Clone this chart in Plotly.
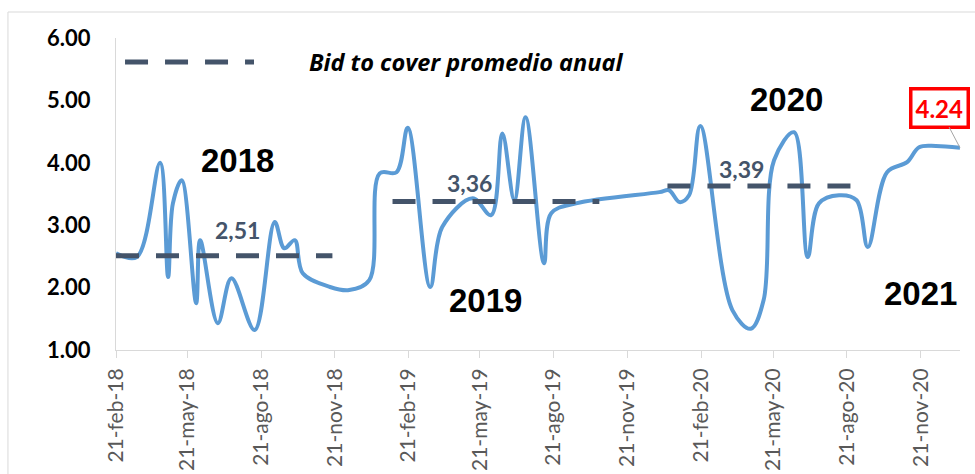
import plotly.graph_objects as go

# ---- Data ----
dates = [
    "2018-02-21", "2018-03-19", "2018-04-17", "2018-04-27", "2018-05-03", "2018-05-14",
    "2018-06-01", "2018-06-06", "2018-06-28", "2018-07-15", "2018-08-13", "2018-09-07",
    "2018-09-19", "2018-10-02", "2018-10-12", "2018-11-15", "2018-12-09", "2019-01-03",
    "2019-01-16", "2019-02-06", "2019-02-20", "2019-03-20", "2019-04-04", "2019-05-12",
    "2019-06-04", "2019-06-18", "2019-07-03", "2019-07-17", "2019-08-09", "2019-08-18",
    "2019-09-18", "2019-12-31", "2020-01-12", "2020-01-25", "2020-02-06", "2020-02-20",
    "2020-03-31", "2020-04-23", "2020-05-09", "2020-05-22", "2020-06-16", "2020-07-03",
    "2020-07-17", "2020-08-11", "2020-09-02", "2020-09-16", "2020-10-10", "2020-11-04",
    "2020-11-19", "2020-12-10", "2021-01-09",
]
bid_to_cover = [
    2.55, 2.49, 4.00, 2.17, 3.35, 3.72,
    1.75, 2.76, 1.43, 2.15, 1.32, 3.05,
    2.63, 2.76, 2.23, 2.01, 1.96, 2.12,
    3.83, 3.85, 4.56, 2.01, 2.97, 3.43,
    3.16, 4.47, 3.40, 4.73, 2.39, 3.19,
    3.35, 3.53, 3.56, 3.37, 3.48, 4.59,
    1.64, 1.34, 1.80, 4.04, 4.49, 2.49,
    3.35, 3.48, 3.40, 2.65, 3.85, 4.01,
    4.25, 4.27, 4.24,
]

# Annual averages (dashed segments)
avg_starts = ["2018-02-21", "2019-02-01", "2020-01-10"]
avg_ends = ["2018-11-18", "2019-10-17", "2020-08-27"]
avg_levels = [2.51, 3.38, 3.63]
avg_texts = ["2,51", "3,36", "3,39"]
avg_label_x = ["2018-07-23", "2019-05-08", "2020-04-12"]
avg_label_y = [2.92, 3.68, 3.90]

# Year labels
year_texts = ["2018", "2019", "2020", "2021"]
year_x = ["2018-07-22", "2019-05-28", "2020-06-06", "2020-11-21"]
year_y = [4.04, 1.80, 5.01, 1.90]

# Axis ticks
tick_dates = [
    "2018-02-21", "2018-05-21", "2018-08-21", "2018-11-21",
    "2019-02-21", "2019-05-21", "2019-08-21", "2019-11-21",
    "2020-02-21", "2020-05-21", "2020-08-21", "2020-11-21",
]
tick_labels = [
    "21-feb-18", "21-may-18", "21-ago-18", "21-nov-18",
    "21-feb-19", "21-may-19", "21-ago-19", "21-nov-19",
    "21-feb-20", "21-may-20", "21-ago-20", "21-nov-20",
]
y_ticks = [1, 2, 3, 4, 5, 6]
y_tick_labels = ["1.00", "2.00", "3.00", "4.00", "5.00", "6.00"]

BLUE = "#5B9BD5"
SLATE = "#44546A"
GRID = "#D9D9D9"

fig = go.Figure()

fig.add_trace(go.Scatter(
    x=dates, y=bid_to_cover, mode="lines",
    line=dict(color=BLUE, width=4, shape="spline", smoothing=1.0),
    hoverinfo="x+y", showlegend=False,
))

for s, e, v in zip(avg_starts, avg_ends, avg_levels):
    fig.add_trace(go.Scatter(
        x=[s, e], y=[v, v], mode="lines",
        line=dict(color=SLATE, width=5, dash="23px,17px"),
        showlegend=False, hoverinfo="skip",
    ))

annotations = []
for t, x, y in zip(avg_texts, avg_label_x, avg_label_y):
    annotations.append(dict(
        x=x, y=y, text=t, showarrow=False,
        font=dict(family="Lato", size=23, color=SLATE, weight="bold"),
    ))
for t, x, y in zip(year_texts, year_x, year_y):
    annotations.append(dict(
        x=x, y=y, text=t, showarrow=False,
        font=dict(family="Liberation Sans", size=33, color="black", weight="bold"),
    ))

# Last value call-out
annotations.append(dict(
    x=dates[-1], y=bid_to_cover[-1], text=f"{bid_to_cover[-1]:.2f}",
    showarrow=True, arrowhead=0, arrowwidth=1, arrowcolor="#A6A6A6",
    ax=-21, ay=-40,
    font=dict(family="Lato", size=24, color="#FF0000", weight="bold"),
    bordercolor="#FF0000", borderwidth=3.5, borderpad=3, bgcolor="white",
))

# Legend text
annotations.append(dict(
    xref="paper", yref="paper", x=0.2263, y=0.923, xanchor="left", yanchor="middle",
    text="Bid to cover promedio anual", showarrow=False,
    font=dict(family="Open Sans", size=23.5, color="black", weight="bold", style="italic"),
))

shapes = [
    # legend sample
    dict(type="line", xref="paper", yref="paper", x0=0.0107, x1=0.1635, y0=0.923, y1=0.923,
         line=dict(color=SLATE, width=5, dash="23px,17px")),
    # chart-area border
    dict(type="rect", xref="paper", yref="paper", x0=-0.128, x1=1.2, y0=-0.6, y1=1.0833,
         line=dict(color=GRID, width=1), fillcolor="rgba(0,0,0,0)", layer="below"),
]

fig.update_layout(
    width=975, height=474,
    margin=dict(l=116, r=15, t=38, b=124),
    paper_bgcolor="white", plot_bgcolor="white",
    annotations=annotations, shapes=shapes,
    showlegend=False,
    xaxis=dict(
        type="date", range=["2018-02-21", "2021-01-09"],
        tickvals=tick_dates, ticktext=tick_labels, tickangle=-90,
        showgrid=False, zeroline=False, automargin=False,
        showline=True, linecolor=GRID, linewidth=1,
        ticks="outside", ticklen=7, tickcolor=GRID, tickwidth=1,
        ticklabelstandoff=2,
        tickfont=dict(family="Lato", size=21, color="#595959"),
    ),
    yaxis=dict(
        range=[1, 6], tickvals=y_ticks, ticktext=y_tick_labels,
        showgrid=False, zeroline=False, automargin=False,
        showline=True, linecolor=GRID, linewidth=1,
        ticks="", ticklabelstandoff=20,
        tickfont=dict(family="Lato", size=22, color="black", weight="bold"),
    ),
)

fig.write_html(
    "out.html",
    config={"displayModeBar": False},
    post_script="document.body.style.margin='0';document.body.style.overflow='hidden';",
)
